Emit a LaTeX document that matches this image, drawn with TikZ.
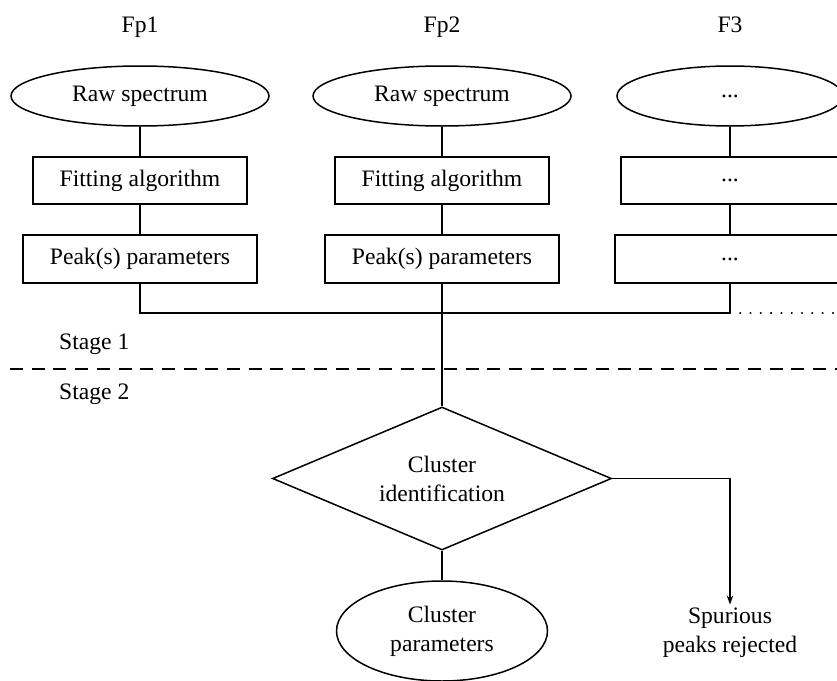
\documentclass[tikz,border=0pt]{standalone}
\usepackage{fontspec}
\setmainfont{Liberation Serif}
\usetikzlibrary{shapes.geometric,arrows.meta}
\begin{document}
\begin{tikzpicture}[x=1pt,y=-1pt,
  every node/.style={font=\fontsize{23.6}{29}\selectfont},
  line/.style={line width=1.5pt},
  oval/.style={draw,line width=1.5pt,ellipse,inner sep=0pt,minimum width=258pt,minimum height=60pt},
  fitbox/.style={draw,line width=1.5pt,rectangle,inner sep=0pt,minimum width=214pt,minimum height=47pt},
  peakbox/.style={draw,line width=1.5pt,rectangle,inner sep=0pt,minimum width=234pt,minimum height=48pt},
  decision/.style={draw,line width=1.5pt,diamond,aspect=2.37,inner sep=0pt,minimum width=339pt,minimum height=143pt,align=center},
  plain/.style={inner sep=0pt}
]
\useasboundingbox (0,0) rectangle (837,680);

% column headers
\node[plain,anchor=base] (h1) at (140,32) {Fp1};
\node[plain,anchor=base] (h2) at (442,32) {Fp2};
\node[plain,anchor=base] (h3) at (730,32) {F3};

% column 1
\node[oval] (raw1) at (140,96) {Raw spectrum};
\node[fitbox] (fit1) at (140,180.5) {Fitting algorithm};
\node[peakbox] (pk1) at (140,259) {Peak(s) parameters};
% column 2
\node[oval] (raw2) at (442,96) {Raw spectrum};
\node[fitbox] (fit2) at (442,180.5) {Fitting algorithm};
\node[peakbox] (pk2) at (442,259) {Peak(s) parameters};
% column 3
\node[oval,minimum width=226pt] (raw3) at (730,96) {...};
\node[fitbox,minimum width=218pt] (fit3) at (730,180.5) {...};
\node[peakbox,minimum width=230pt] (pk3) at (730,259) {...};

\draw[line] (raw1) -- (fit1);
\draw[line] (fit1) -- (pk1);
\draw[line] (raw2) -- (fit2);
\draw[line] (fit2) -- (pk2);
\draw[line] (raw3) -- (fit3);
\draw[line] (fit3) -- (pk3);

% collector line
\coordinate (j1) at (140,313);
\coordinate (j2) at (442,313);
\coordinate (j3) at (730,313);
\coordinate (jend) at (837,313);
\draw[line] (pk1.south) -- (j1) -- (j3) -- (pk3.south);
\draw[line width=1.8pt,line cap=round,dash pattern=on 0.4pt off 9.9pt] ([xshift=10pt]j3) -- (jend);

% stages
\node[plain,anchor=base west] (s1) at (59,349) {Stage 1};
\node[plain,anchor=base west] (s2) at (59,399) {Stage 2};
\coordinate (dl) at (10,369);
\coordinate (dr) at (837,369);
\draw[line,dash pattern=on 13pt off 8.7pt] (dl) -- (dr);

% stage 2
\node[decision] (clu) at (442,478.5) {Cluster\\identification};
\draw[line] (pk2.south) -- (clu.north);

\node[oval,minimum width=211pt,minimum height=100pt,align=center] (cpar) at (442,631) {Cluster\\parameters};
\draw[line] (clu.south) -- (cpar.north);

\node[align=center,inner sep=3pt] (spur) at (730,632.5) {Spurious\\peaks rejected};
\coordinate (corner) at (730,478.5);
\draw[line,-{Stealth[length=9pt,width=6.5pt]}] (clu.east) -- (corner) -- (spur.north);
\end{tikzpicture}
\end{document}
